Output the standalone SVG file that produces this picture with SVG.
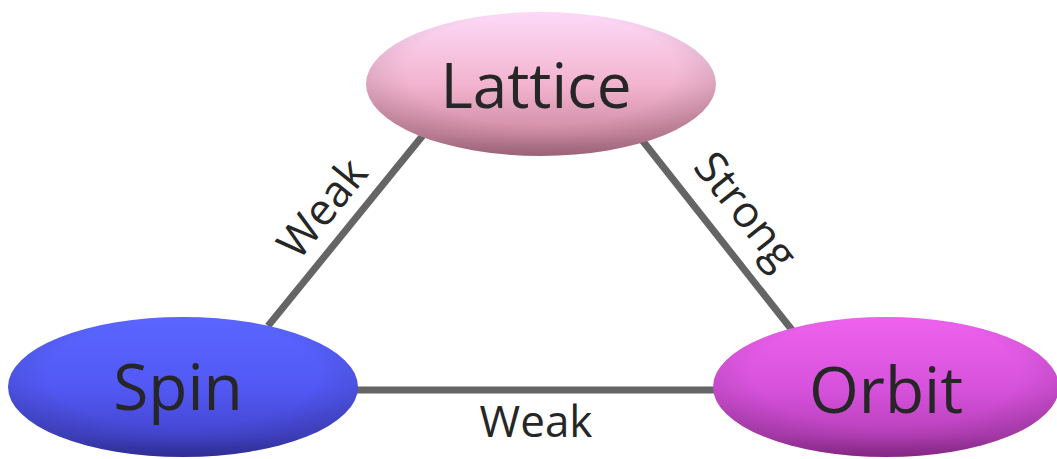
<svg xmlns="http://www.w3.org/2000/svg" width="1057" height="459" viewBox="0 0 1057 459">
  <defs>
    <linearGradient id="gLattice" x1="0" y1="0" x2="0" y2="1">
      <stop offset="0" stop-color="#fddaf8"/>
      <stop offset="0.5" stop-color="#f2b4cf"/>
      <stop offset="0.85" stop-color="#d08ca4"/>
      <stop offset="1" stop-color="#b07088"/>
    </linearGradient>
    <linearGradient id="gSpin" x1="0" y1="0" x2="0" y2="1">
      <stop offset="0" stop-color="#5a66ff"/>
      <stop offset="0.5" stop-color="#5258f4"/>
      <stop offset="0.85" stop-color="#4446d0"/>
      <stop offset="1" stop-color="#3434a8"/>
    </linearGradient>
    <linearGradient id="gOrbit" x1="0" y1="0" x2="0" y2="1">
      <stop offset="0" stop-color="#ee62ee"/>
      <stop offset="0.5" stop-color="#d752dc"/>
      <stop offset="0.85" stop-color="#b840bb"/>
      <stop offset="1" stop-color="#962c96"/>
    </linearGradient>
    <radialGradient id="gShade" cx="0.5" cy="0.4" r="0.55">
      <stop offset="0.7" stop-color="#000" stop-opacity="0"/>
      <stop offset="1" stop-color="#000" stop-opacity="0.12"/>
    </radialGradient>
  </defs>
  <style>
    .edge { stroke: #656565; stroke-width: 7; stroke-linecap: butt; fill: none; }
    .node-label { font-family: "Open Sans", "Noto Sans", sans-serif; fill: #262626; text-anchor: middle; }
    .edge-label { font-family: "Open Sans", "Noto Sans", sans-serif; fill: #262626; text-anchor: middle; font-size: 44px; }
  </style>

  <!-- connectors -->
  <g id="connectors">
    <line class="edge" x1="424" y1="134" x2="268" y2="326"/>
    <line class="edge" x1="642" y1="140" x2="792" y2="330"/>
    <line class="edge" x1="355" y1="390" x2="716" y2="390"/>
    <text class="edge-label" transform="translate(334,218) rotate(-51)">Weak</text>
    <text class="edge-label" transform="translate(734,220) rotate(51.5)">Strong</text>
    <text class="edge-label" x="536" y="437">Weak</text>
  </g>

  <!-- nodes -->
  <g id="lattice">
    <ellipse cx="541" cy="84" rx="175" ry="72" fill="url(#gLattice)"/>
    <ellipse cx="541" cy="84" rx="175" ry="72" fill="url(#gShade)"/>
    <text class="node-label" x="536" y="108" font-size="62">Lattice</text>
  </g>
  <g id="spin">
    <ellipse cx="183" cy="387" rx="175" ry="70" fill="url(#gSpin)"/>
    <ellipse cx="183" cy="387" rx="175" ry="70" fill="url(#gShade)"/>
    <text class="node-label" x="178" y="410" font-size="64">Spin</text>
  </g>
  <g id="orbit">
    <ellipse cx="886" cy="387" rx="173" ry="70" fill="url(#gOrbit)"/>
    <ellipse cx="886" cy="387" rx="173" ry="70" fill="url(#gShade)"/>
    <text class="node-label" x="886" y="413" font-size="64">Orbit</text>
  </g>
</svg>
